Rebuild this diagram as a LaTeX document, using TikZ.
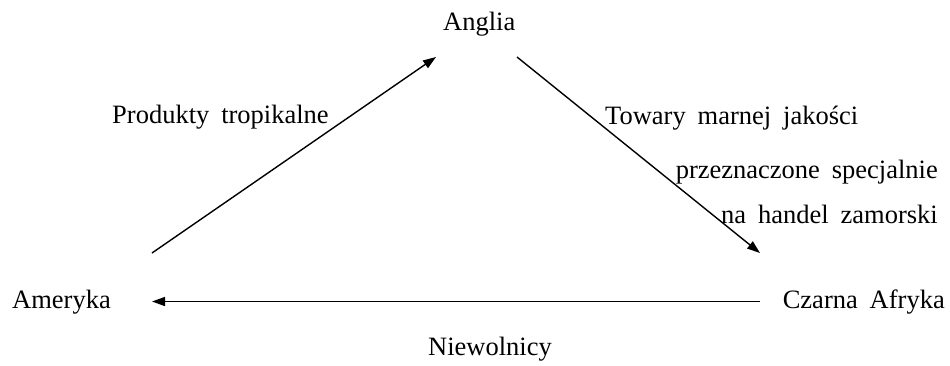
\documentclass[tikz,border=0pt]{standalone}
\usepackage{fontspec}
\setmainfont{Liberation Serif}
\usetikzlibrary{arrows.meta}
\newcommand{\lblfont}{\fontsize{26.5}{32}\selectfont\spaceskip=0.45em plus 0.1em\relax}
\tikzset{
  lbl/.style={inner sep=0pt, font=\lblfont},
  conn/.style={line width=1.4pt, -{Triangle[length=13pt,width=9pt]}}
}
\begin{document}
\begin{tikzpicture}[x=1pt,y=-1pt]
\useasboundingbox (0,0) rectangle (950,365);
% place nodes
\node[lbl, anchor=base west] (anglia) at (443,30) {Anglia};
\node[lbl, anchor=base west] (ameryka) at (12,308) {Ameryka};
\node[lbl, anchor=base east] (afryka) at (945,308) {Czarna Afryka};
\node[lbl, anchor=base west] (produkty) at (112,123) {Produkty tropikalne};
\node[lbl, anchor=base west] (towary1) at (605,124) {Towary marnej jakości};
\node[lbl, anchor=base east] (towary2) at (938,178) {przeznaczone specjalnie};
\node[lbl, anchor=base east] (towary3) at (938,223) {na handel zamorski};
\node[lbl, anchor=base west] (niewolnicy) at (428,355) {Niewolnicy};
% connector end points
\coordinate (amA) at (152,253);
\coordinate (anA) at (436,57);
\coordinate (anB) at (517,57);
\coordinate (afB) at (760,253);
\coordinate (afC) at (760,301.5);
\coordinate (amC) at (152,301.5);
\draw[conn] (amA) -- (anA);
\draw[conn] (anB) -- (afB);
\draw[conn] (afC) -- (amC);
\end{tikzpicture}
\end{document}
